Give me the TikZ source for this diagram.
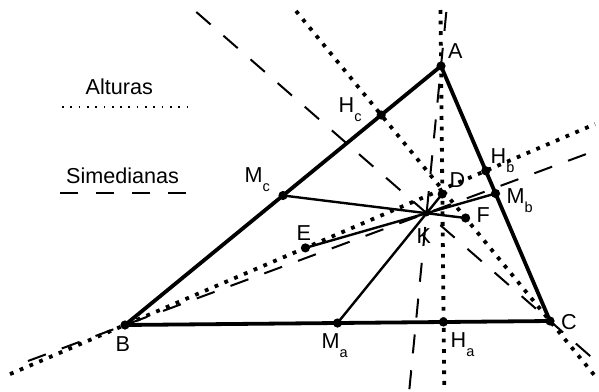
\documentclass[tikz,border=0pt]{standalone}
\usepackage{fontspec}
\setmainfont{Liberation Sans}
\newcommand{\lsub}[1]{\raisebox{-9pt}{\fontsize{14.5}{14.5}\selectfont #1}}
\begin{document}
\begin{tikzpicture}[x=1pt,y=-1pt,
  tri/.style={line width=3.8pt, line cap=round, line join=round},
  inner/.style={line width=2.4pt},
  alt/.style={line width=3.8pt, dash pattern=on 3.8pt off 6.8pt},
  sym/.style={line width=2pt, dash pattern=on 19pt off 17pt},
  lgalt/.style={line width=1.7pt, dash pattern=on 1.7pt off 6.6pt},
  lgsym/.style={line width=2.2pt, dash pattern=on 18pt off 18pt},
  lbl/.style={anchor=base west, inner sep=0pt, font=\fontsize{21.6}{26}\selectfont}]
\useasboundingbox (0,0) rectangle (599,391);
% points
\coordinate (A) at (441,66);
\coordinate (B) at (125,325);
\coordinate (C) at (550,321);
\coordinate (Ha) at (443.4,322);
\coordinate (Hb) at (485.8,170.8);
\coordinate (Hc) at (381.2,115);
\coordinate (Ma) at (337.5,323);
\coordinate (Mb) at (495.5,193.5);
\coordinate (Mc) at (283,195.5);
\coordinate (K) at (426.6,213.2);
\coordinate (D) at (442.2,194);
\coordinate (E) at (305.4,247.9);
\coordinate (F) at (465.6,218);
% free ends of the lines
\coordinate (altA1) at (440.5,10);
\coordinate (altA2) at (444.3,391);
\coordinate (altC1) at (296,11);
\coordinate (altC2) at (597,378.4);
\coordinate (altB1) at (10,374.1);
\coordinate (altB2) at (595,124.1);
\coordinate (symA1) at (446.3,12);
\coordinate (symA2) at (409.2,391);
\coordinate (symB1) at (28,361);
\coordinate (symB2) at (592,151.9);
\coordinate (symC1) at (196.3,12);
\coordinate (symC2) at (594,359.4);
% legend
\coordinate (L1a) at (62,107);
\coordinate (L1b) at (190,107);
\coordinate (L2a) at (60,193);
\coordinate (L2b) at (187,193);
\node[lbl] (tAlt) at (85.5,94) {Alturas};
\node[lbl] (tSym) at (66,183) {Simedianas};
\draw[lgalt] (L1a) -- (L1b);
\draw[lgsym] (L2a) -- (L2b);
% altitudes
\draw[alt] (altA1) -- (altA2);
\draw[alt] (altC1) -- (altC2);
\draw[alt] (altB1) -- (altB2);
% symmedians
\draw[sym] (symA1) -- (symA2);
\draw[sym] (symB1) -- (symB2);
\draw[sym] (symC1) -- (symC2);
% triangle
\draw[tri] (A) -- (B) -- (C) -- cycle;
% lines through K
\draw[inner] (Mc) -- (F);
\draw[inner] (Mb) -- (E);
\draw[inner] (Ma) -- (D);
% dots
\foreach \p in {A,B,C,Ha,Hb,Hc,Ma,Mb,Mc,D,E,F}{\fill (\p) circle (4.6pt);}
\fill (K) circle (3.2pt);
% labels
\node[lbl] (lA) at (448,58) {A};
\node[lbl] (lB) at (115.5,351) {B};
\node[lbl] (lC) at (561,329) {C};
\node[lbl] (lHc) at (338.5,112) {H\lsub{c}};
\node[lbl] (lMc) at (244.5,182) {M\lsub{c}};
\node[lbl] (lHb) at (490.5,163) {H\lsub{b}};
\node[lbl] (lMb) at (506.5,203) {M\lsub{b}};
\node[lbl] (lD) at (449.5,187) {D};
\node[lbl] (lF) at (476.5,222) {F};
\node[lbl] (lK) at (416.5,243) {K};
\node[lbl] (lE) at (296.5,240) {E};
\node[lbl] (lMa) at (321.5,348) {M\lsub{a}};
\node[lbl] (lHa) at (450.5,347) {H\lsub{a}};
\end{tikzpicture}
\end{document}
